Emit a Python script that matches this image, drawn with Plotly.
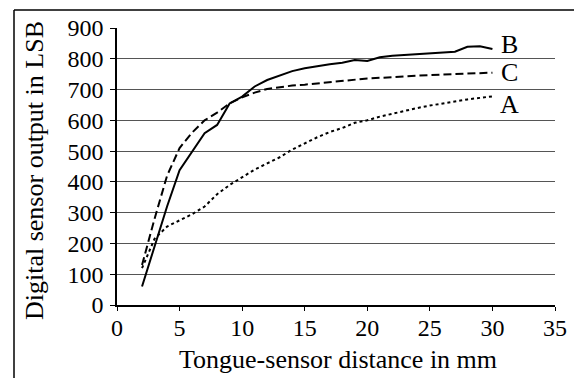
import plotly.graph_objects as go

x_vals = list(range(2, 31))
series_A = [120, 215, 255, 275, 295, 320, 360, 390, 415, 440, 460, 480, 505, 525, 545,
            562, 575, 592, 600, 612, 622, 632, 640, 648, 655, 662, 668, 673, 678]
series_B = [60, 190, 320, 438, 500, 558, 585, 655, 677, 710, 731, 745, 760, 769, 776,
            782, 787, 796, 793, 805, 810, 813, 815, 817, 820, 823, 839, 841, 832]
series_C = [130, 280, 420, 510, 560, 600, 625, 655, 675, 690, 702, 708, 713, 716, 720,
            724, 728, 733, 736, 738, 741, 743, 745, 747, 749, 750, 752, 754, 755]
labels = ["A", "B", "C"]
label_y = [650, 845, 757]
label_x = 31.4
x_ticks = [0, 5, 10, 15, 20, 25, 30, 35]
y_ticks = [0, 100, 200, 300, 400, 500, 600, 700, 800, 900]
x_title = "Tongue-sensor distance in mm"
y_title = "Digital sensor output in LSB"

W, H = 574, 378
L, R, T, B = 117, 19, 28, 73
font = "Liberation Serif"

fig = go.Figure()
fig.add_trace(go.Scatter(x=x_vals, y=series_A, mode="lines",
                         line=dict(color="black", width=2, dash="dot")))
fig.add_trace(go.Scatter(x=x_vals, y=series_B, mode="lines",
                         line=dict(color="black", width=2)))
fig.add_trace(go.Scatter(x=x_vals, y=series_C, mode="lines",
                         line=dict(color="black", width=2, dash="8px,4px")))

for lab, ly in zip(labels, label_y):
    fig.add_annotation(x=label_x, y=ly, text=lab, showarrow=False,
                       font=dict(family=font, size=26, color="black"))

pw, ph = W - L - R, H - T - B
def px(xp):
    return (xp - L) / pw
def py(yp):
    return (H - B - yp) / ph

# axis titles
fig.add_annotation(xref="paper", yref="paper", x=px(338), y=py(359), text=x_title,
                   showarrow=False, xanchor="center", yanchor="middle",
                   font=dict(family=font, size=26, color="black"))
fig.add_annotation(xref="paper", yref="paper", x=px(34), y=py(171), text=y_title,
                   showarrow=False, textangle=-90, xanchor="center", yanchor="middle",
                   font=dict(family=font, size=26, color="black"))

fig.add_shape(type="line", xref="paper", yref="paper",
              x0=px(14), x1=px(14), y0=py(10), y1=py(400),
              line=dict(color="black", width=1.5))
fig.add_shape(type="line", xref="paper", yref="paper",
              x0=px(14), x1=px(600), y0=py(10), y1=py(10),
              line=dict(color="black", width=1.5))

fig.update_layout(
    width=W, height=H,
    margin=dict(l=L, r=R, t=T, b=B, autoexpand=False),
    paper_bgcolor="white", plot_bgcolor="white",
    showlegend=False,
    font=dict(family=font, size=24, color="black"),
    xaxis=dict(range=[0, 35], tickvals=x_ticks, showgrid=False, zeroline=False,
               showline=True, linecolor="black", linewidth=1.5, automargin=False,
               ticks="outside", ticklen=4, tickcolor="black", ticklabelstandoff=-4,
               tickfont=dict(family=font, size=24, color="black")),
    yaxis=dict(range=[0, 900], tickvals=y_ticks, showgrid=True, gridcolor="#555",
               gridwidth=1, zeroline=False, automargin=False,
               showline=True, linecolor="black", linewidth=1.5,
               ticks="outside", ticklen=5, tickcolor="black", ticklabelstandoff=2,
               tickfont=dict(family=font, size=24, color="black")),
)

fig.write_html("out.html",
               config={"displayModeBar": False},
               post_script="document.body.style.margin='0';document.body.style.padding='0';")
